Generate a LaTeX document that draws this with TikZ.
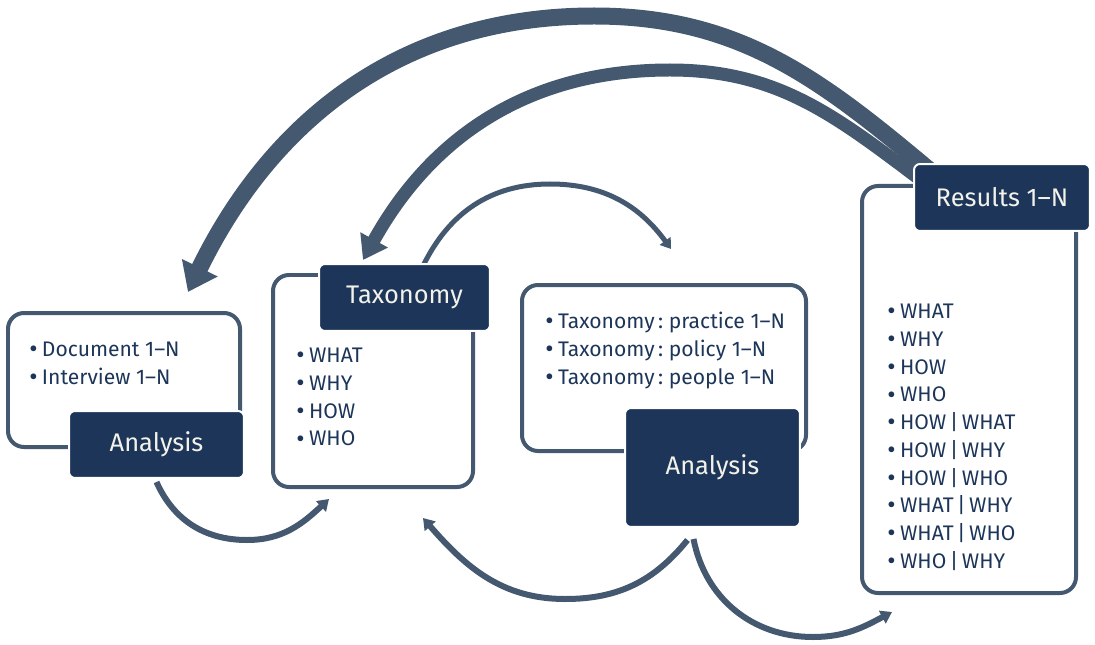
\documentclass[tikz,border=0pt]{standalone}
\usepackage{fontspec}
\setmainfont{Fira Sans}
\usetikzlibrary{arrows.meta,fit}
\definecolor{navy}{HTML}{1C3559}
\definecolor{slate}{HTML}{445870}
\definecolor{paper}{HTML}{F2F2EA}
\newcommand\itm{\smash{\raisebox{-0.6pt}{\fontsize{14.5}{0}\selectfont\textbullet}}\hspace{2.5pt}}

\begin{document}
\begin{tikzpicture}[x=0.02cm, y=0.02cm,
    frame/.style={draw=slate, line width=0.08cm, rounded corners=0.32cm, inner sep=0pt},
    tag/.style={fill=navy, draw=white, line width=0.04cm, rounded corners=0.12cm, text=paper,
      font=\fontsize{14.5}{17}\selectfont, minimum width=3.5cm, minimum height=1.34cm},
    items/.style={anchor=north west, inner sep=0pt, align=left, text=navy,
      font=\fontsize{12}{15.76}\selectfont},
    flow/.style={draw=slate, line width=#1}]
    \useasboundingbox (0,0) rectangle (1095,-645);

    % labels
    \node[tag] (ana1) at (156.5,-444.5) {Analysis};
    \node[tag, minimum width=3.42cm] (taxlab) at (404.5,-297.5) {Taxonomy};
    \node[tag, minimum height=2.38cm] (ana2) at (712.5,-467.5) {Analysis};
    \node[tag, minimum width=3.52cm] (reslab) at (1002,-197.5) {Results 1–N};

    % free ends and turning points
    \coordinate (top1) at (594,-16);
    \coordinate (tip1) at (188,-292);
    \coordinate (top2) at (670,-70);
    \coordinate (tip2) at (363,-260);
    \coordinate (top3) at (550,-184);
    \coordinate (tip3) at (671,-249);
    \coordinate (low4) at (247,-540);
    \coordinate (tip4) at (329,-499);
    \coordinate (low5) at (565,-599);
    \coordinate (tip5) at (423,-518);
    \coordinate (low6) at (813,-637);
    \coordinate (tip6) at (892,-612);

    % feedback arrows
    \draw[flow=0.34cm, -{Triangle[length=0.54cm,width=0.76cm]}]
      ([xshift=0.42cm,yshift=-0.22cm]reslab.north west) to[out=140,in=0] (top1)
      to[out=180,in=64] (tip1);
    \draw[flow=0.26cm, -{Triangle[length=0.46cm,width=0.6cm]}]
      ([xshift=0.1cm,yshift=-0.3cm]reslab.north west) to[out=143,in=0] (top2)
      to[out=180,in=61] (tip2);
    \draw[flow=0.1cm, -{Triangle[length=0.2cm,width=0.26cm]}]
      ([xshift=0.37cm,yshift=-0.06cm]taxlab.north) to[out=64,in=180] (top3)
      to[out=0,in=126] (tip3);
    \draw[flow=0.12cm, -{Triangle[length=0.22cm,width=0.28cm]}]
      ([yshift=-0.06cm]ana1.south) to[out=-66,in=180] (low4) to[out=0,in=223] (tip4);
    \draw[flow=0.12cm, -{Triangle[length=0.22cm,width=0.28cm]}]
      ([xshift=-0.5cm,yshift=-0.24cm]ana2.south) to[out=231,in=0] (low5) to[out=180,in=-49] (tip5);
    \draw[flow=0.12cm, -{Triangle[length=0.22cm,width=0.28cm]}]
      ([xshift=-0.38cm,yshift=-0.22cm]ana2.south) to[out=-79,in=180] (low6) to[out=0,in=208] (tip6);

    % frames
    \node[frame, fit={(8,-313) (240,-447)}] (docbox) {};
    \node[frame, fit={(273,-275) (473,-487)}] (taxbox) {};
    \node[frame, fit={(522,-285) (806,-451)}] (polbox) {};
    \node[frame, fit={(862,-186) (1076,-593)}] (resbox) {};

    % labels again, on top of the frames
    \node[tag] at (ana1) {Analysis};
    \node[tag, minimum width=3.42cm] at (taxlab) {Taxonomy};
    \node[tag, minimum height=2.38cm] at (ana2) {Analysis};
    \node[tag, minimum width=3.52cm] at (reslab) {Results 1–N};

    % lists
    \node[items] (doclist) at (29,-342) {\itm Document 1–N\\ \itm Interview 1–N};
    \node[items] (taxlist) at (296,-348) {\itm WHAT\\ \itm WHY\\ \itm HOW\\ \itm WHO};
    \node[items] (pollist) at (545,-312) {\itm Taxonomy\,:~practice 1–N\\
      \itm Taxonomy\,:~policy 1–N\\ \itm Taxonomy\,:~people 1–N};
    \node[items] (reslist) at (887,-304) {\itm WHAT\\ \itm WHY\\ \itm HOW\\
      \itm WHO\\ \itm HOW\,|\,WHAT\\ \itm HOW\,|\,WHY\\ \itm HOW\,|\,WHO\\
      \itm WHAT\,|\,WHY\\ \itm WHAT\,|\,WHO\\ \itm WHO\,|\,WHY};
\end{tikzpicture}
\end{document}
